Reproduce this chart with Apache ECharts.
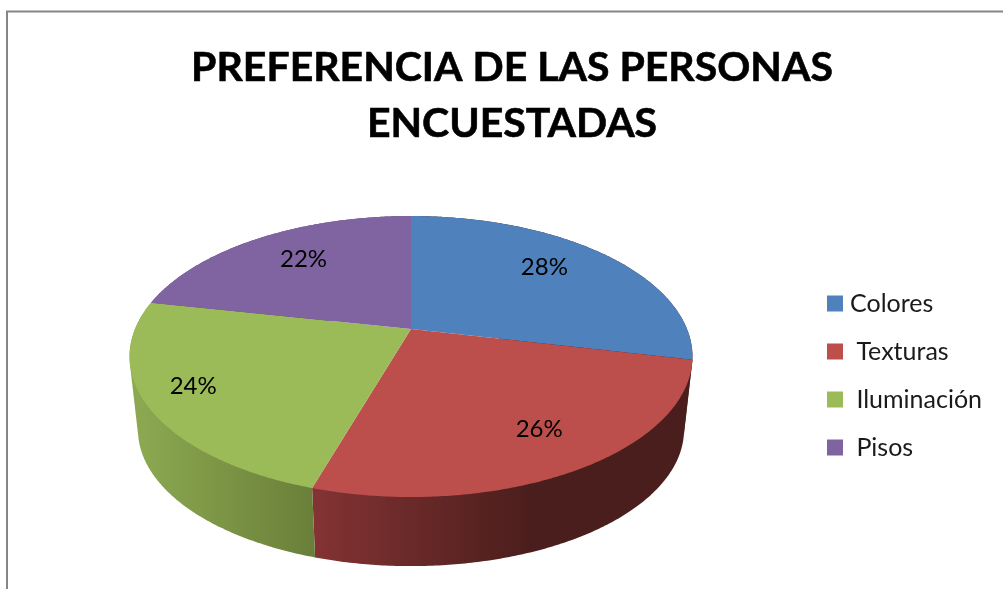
<!DOCTYPE html>
<html>
<head>
<meta charset="utf-8">
<style>
  html, body { margin: 0; padding: 0; background: #fff; }
  #chart { width: 1003px; height: 589px; }
</style>
<script src="https://cdn.jsdelivr.net/npm/echarts@6/dist/echarts.min.js"></script>
</head>
<body>
<div id="chart"></div>
<script>
// data
const titleLines = ['PREFERENCIA DE LAS PERSONAS', 'ENCUESTADAS'];
const categories = ['Colores', 'Texturas', 'Iluminación', 'Pisos'];
const values = [28.5, 26.2, 23.55, 21.75];

const topColors = ['#4f81bd', '#bc4f4c', '#9bbb59', '#8064a2'];
const wallColors = [
  ['#4a1e1c', '#4a1e1c'],
  ['#833333', '#4a1e1c'],
  ['#8ca951', '#6a7f39'],
  ['#5e4a78', '#4a3a60']
];
const wallGradientX = [[411, 692], [315, 530], [137, 313], [150, 411]];
const labelRadius = [0.73, 0.76, 0.83, 0.73];
const labelShift = [[-11, -5], [7, -2], [-3, -5], [7, -1]];

// perspective of the disc: apex, tilt and radii measured on the picture
const cx = 411, cy = 329, A = 276, B = 135.1, K = 0.196;
// the lower rim is the top rim pushed down and a bit further away
const rimScale = 0.97, rimOffset = 84;

const total = values.reduce((a, b) => a + b, 0);

function angleAt(index) {
  let sum = 0;
  for (let i = 0; i < index; i++) sum += values[i];
  return sum / total * Math.PI * 2;
}

function project(a, r) {
  const X = Math.sin(a) * r;
  const Y = Math.cos(a) * r;
  const w = 1 + K * Y;
  return [cx + A * X / w, cy - B * Y / w];
}

function lower(p) {
  return [cx + (p[0] - cx) * rimScale, p[1] * rimScale + rimOffset];
}

function arc(a0, a1) {
  const pts = [];
  const n = Math.ceil((a1 - a0) / 0.01);
  for (let i = 0; i <= n; i++) {
    pts.push(project(a0 + (a1 - a0) * i / n, 1));
  }
  return pts;
}

// convex hull of both rims, the part inside the disc is covered by the top faces
function hull(points) {
  const pts = points.slice().sort((p, q) => p[0] - q[0] || p[1] - q[1]);
  const cross = (o, p, q) => (p[0] - o[0]) * (q[1] - o[1]) - (p[1] - o[1]) * (q[0] - o[0]);
  const half = function (list) {
    const out = [];
    list.forEach(function (p) {
      while (out.length > 1 && cross(out[out.length - 2], out[out.length - 1], p) <= 0) out.pop();
      out.push(p);
    });
    out.pop();
    return out;
  };
  return half(pts).concat(half(pts.slice().reverse()));
}

function renderWall(params) {
  const i = params.dataIndex;
  const top = arc(angleAt(i), angleAt(i + 1));
  return {
    type: 'polygon',
    shape: { points: hull(top.concat(top.map(lower))) },
    style: {
      fill: new echarts.graphic.LinearGradient(wallGradientX[i][0], 0, wallGradientX[i][1], 0, [
        { offset: 0, color: wallColors[i][0] },
        { offset: 1, color: wallColors[i][1] }
      ], true)
    }
  };
}

function renderTop(i) {
  return function () {
    const a0 = angleAt(i), a1 = angleAt(i + 1);
    const mid = project((a0 + a1) / 2, labelRadius[i]);
    return {
      type: 'group',
      children: [
        {
          type: 'polygon',
          shape: { points: [[cx, cy]].concat(arc(a0, a1)) },
          style: { fill: topColors[i] }
        },
        {
          type: 'text',
          z2: 10,
          style: {
            text: Math.round(values[i] / total * 100) + '%',
            x: mid[0] + labelShift[i][0],
            y: mid[1] + labelShift[i][1],
            fill: '#000',
            font: '24px Lato',
            align: 'center',
            verticalAlign: 'middle'
          }
        }
      ]
    };
  };
}

const series = [{
  type: 'custom',
  name: 'wall',
  coordinateSystem: 'none',
  z: 1,
  silent: true,
  data: values,
  renderItem: renderWall
}];

categories.forEach(function (name, i) {
  series.push({
    type: 'custom',
    name: name,
    coordinateSystem: 'none',
    z: 2,
    silent: true,
    itemStyle: { color: topColors[i] },
    data: [values[i]],
    renderItem: renderTop(i)
  });
});

const chart = echarts.init(document.getElementById('chart'), null, { renderer: 'canvas' });
chart.setOption({
  animation: false,
  backgroundColor: '#fff',
  title: {
    text: titleLines.join('\n'),
    left: 507,
    top: 35,
    textAlign: 'center',
    textStyle: {
      fontFamily: 'Lato',
      fontWeight: 'bold',
      fontSize: 41,
      lineHeight: 56,
      color: '#000',
      textBorderColor: '#000',
      textBorderWidth: 0.6
    }
  },
  legend: {
    data: categories,
    orient: 'vertical',
    left: 827,
    top: 291,
    padding: 0,
    icon: 'rect',
    itemWidth: 16,
    itemHeight: 16,
    itemGap: 23,
    selectedMode: false,
    formatter: function (name) {
      return name === categories[0] ? name : ' ' + name;
    },
    textStyle: {
      fontFamily: 'Lato',
      fontSize: 25,
      color: '#1a1a1a',
      padding: [0, 0, 0, 2]
    }
  },
  graphic: [{
    type: 'rect',
    silent: true,
    shape: { x: 7, y: 11.5, width: 1100, height: 700 },
    style: { fill: 'none', stroke: '#868686', lineWidth: 2 }
  }],
  series: series
});
</script>
</body>
</html>
